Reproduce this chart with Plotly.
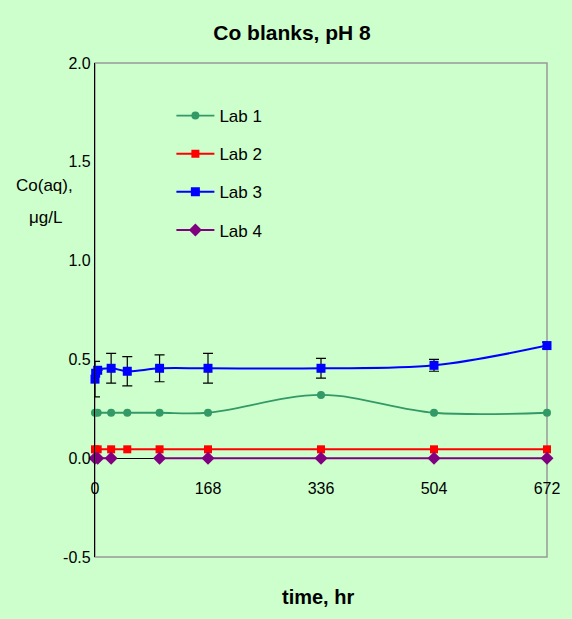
import plotly.graph_objects as go

# ---- data ----
t_lab1 = [0, 4, 24, 48, 96, 168, 336, 504, 672]
lab1 = [0.23, 0.23, 0.23, 0.23, 0.23, 0.23, 0.32, 0.23, 0.23]

t_lab2 = [0, 4, 24, 48, 96, 168, 336, 504, 672]
lab2 = [0.045, 0.045, 0.045, 0.045, 0.045, 0.045, 0.045, 0.045, 0.045]

t_lab3 = [0, 1, 4, 24, 48, 96, 168, 336, 504, 672]
lab3 = [0.40, 0.43, 0.445, 0.455, 0.44, 0.455, 0.455, 0.455, 0.47, 0.57]
err_lab3 = [0.09, None, None, 0.075, 0.074, 0.068, 0.075, 0.05, 0.03, 0.017]

t_lab4 = [0, 4, 24, 48, 96, 168, 336, 504, 672]
lab4 = [0.0, 0.0, 0.0, None, 0.0, 0.0, 0.0, 0.0, 0.0]

x_ticks = [0, 168, 336, 504, 672]
y_ticks = [-0.5, 0.0, 0.5, 1.0, 1.5, 2.0]
y_ticktext = ["-0.5", "0.0", "0.5", "1.0", "1.5", "2.0"]

BG = "#CCFFCC"
FONT = "Arial, Liberation Sans, sans-serif"

fig = go.Figure()
fig.add_trace(go.Scatter(
    x=t_lab1, y=lab1, name="Lab 1", mode="lines+markers", legendgroup="g1",
    line=dict(color="#339966", width=1.8, shape="spline", smoothing=1),
    marker=dict(symbol="circle", size=8, color="#339966"), cliponaxis=False))
fig.add_trace(go.Scatter(
    x=t_lab2, y=lab2, name="Lab 2", mode="lines+markers", legendgroup="g2",
    line=dict(color="#FF0000", width=2, shape="spline", smoothing=1),
    marker=dict(symbol="square", size=8, color="#FF0000"), cliponaxis=False))
fig.add_trace(go.Scatter(
    x=t_lab3, y=lab3, name="Lab 3", mode="lines+markers", legendgroup="g3",
    line=dict(color="#0000FF", width=2, shape="spline", smoothing=1),
    marker=dict(symbol="square", size=9, color="#0000FF"),
    error_y=dict(type="data", array=err_lab3, visible=True, color="black",
                 thickness=1.2, width=5),
    cliponaxis=False))
fig.add_trace(go.Scatter(
    x=t_lab4, y=lab4, name="Lab 4", mode="lines+markers", legendgroup="g4",
    connectgaps=False,
    line=dict(color="#800080", width=2, shape="spline", smoothing=1),
    marker=dict(symbol="diamond", size=10, color="#800080"), cliponaxis=False))

fig.update_layout(
    width=572, height=619,
    margin=dict(l=95, r=17, t=63, b=62),
    paper_bgcolor=BG, plot_bgcolor=BG,
    font=dict(family=FONT, size=16, color="black"),
    title=dict(text="<b>Co blanks, pH 8</b>", x=292/572, xanchor="center",
               y=1-33/619, yanchor="middle", yref="container",
               font=dict(family=FONT, size=21, color="black")),
    showlegend=True,
    legend=dict(x=0.169, y=0.929, xanchor="left", yanchor="top",
                bgcolor="rgba(0,0,0,0)", tracegroupgap=13, itemwidth=38,
                font=dict(family=FONT, size=17, color="black")),
    xaxis=dict(range=[0, 672], tickvals=x_ticks, ticktext=[str(v) for v in x_ticks],
               anchor="free", position=0.2, showline=True, linecolor="black",
               linewidth=1, ticks="outside", ticklen=16, tickcolor="rgba(0,0,0,0)",
               showgrid=False, zeroline=False, layer="below traces",
               tickfont=dict(family=FONT, size=16)),
    yaxis=dict(range=[-0.5, 2.0], tickvals=y_ticks, ticktext=y_ticktext,
               showline=True, linecolor="black", linewidth=1.2, ticks="",
               showgrid=False, zeroline=False, tickfont=dict(family=FONT, size=16)),
    shapes=[dict(type="rect", xref="paper", yref="paper", x0=0, x1=1, y0=0, y1=1,
                 line=dict(color="#999999", width=1.5), layer="below")],
    annotations=[
        dict(text="<b>time, hr</b>", xref="paper", yref="paper",
             x=(322-95)/460, y=(557-597)/494, xanchor="center", yanchor="middle",
             showarrow=False, font=dict(family=FONT, size=20, color="black")),
        dict(text="Co(aq),", xref="paper", yref="paper",
             x=(44-95)/460, y=(557-185)/494, xanchor="center", yanchor="middle",
             showarrow=False, font=dict(family=FONT, size=17, color="black")),
        dict(text="μg/L", xref="paper", yref="paper",
             x=(45-95)/460, y=(557-217)/494, xanchor="center", yanchor="middle",
             showarrow=False, font=dict(family=FONT, size=17, color="black")),
    ],
)

fig.write_html("out.html")
